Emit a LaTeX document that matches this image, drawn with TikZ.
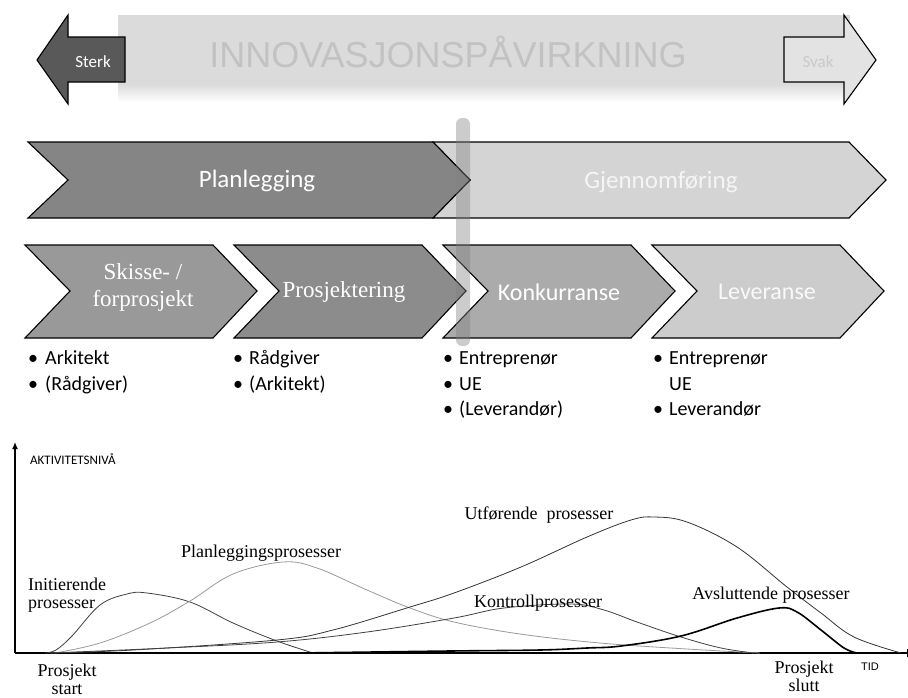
\documentclass[tikz,border=0pt]{standalone}
\usepackage{fontspec}
\usetikzlibrary{arrows.meta}
\setmainfont{Liberation Serif}
\newfontfamily\calibri{Carlito}
\newfontfamily\arialf{Liberation Sans}
\begin{document}
\begin{tikzpicture}[x=1pt,y=-1pt,
  outline/.style={draw=black,line width=1.1pt,line join=miter},
  chevtext/.style={text=white,font=\calibri\fontsize{25}{28}\selectfont,inner sep=0pt},
  chevserif/.style={text=white,font=\fontsize{23}{27}\selectfont,inner sep=0pt,align=center},
  itm/.style={anchor=base west,inner sep=0pt,font=\calibri\fontsize{20}{22}\selectfont},
  bul/.style={anchor=base,inner sep=0pt,font=\calibri\fontsize{20}{22}\selectfont},
  lbl/.style={inner sep=0pt,font=\fontsize{18}{20}\selectfont,align=center},
  curve/.style={line width=0.8pt,smooth,tension=0.6}]
\useasboundingbox (0,0) rectangle (908,697);

% --- banner with direction arrows ---
\fill[gray!28] (118,15) rectangle (850,84);
\shade[top color=gray!28,bottom color=white] (118,84) rectangle (850,102);
\node[inner sep=0pt,text=gray!48,font=\arialf\fontsize{36}{40}\selectfont] (title) at (448,52) {INNOVASJONSPÅVIRKNING};
\draw[outline,fill=black!65] (37,60) -- (68,15) -- (68,37) -- (125,37) -- (125,82) -- (68,82) -- (68,104) -- cycle;
\node[inner sep=0pt,text=white,font=\calibri\fontsize{17}{19}\selectfont] (sterk) at (93,62) {Sterk};
\draw[outline,fill=gray!22] (784,37) -- (844,37) -- (844,15) -- (876,60) -- (844,104) -- (844,82) -- (784,82) -- cycle;
\node[inner sep=0pt,text=gray!42,font=\calibri\fontsize{17}{19}\selectfont] (svak) at (818,62) {Svak};

% --- main phases ---
\draw[outline,fill=black!17] (433,142) -- (849,142) -- (886,180) -- (849,218) -- (433,218) -- (470,180) -- cycle;
\draw[outline,fill=black!48] (28,142) -- (433,142) -- (470,180) -- (433,218) -- (28,218) -- (68,180) -- cycle;
\node[chevtext] (plan) at (257,181) {Planlegging};
\node[chevtext,text=white!92!gray] (gjen) at (661,182) {Gjennomføring};

% --- sub phases ---
\draw[outline,fill=black!40] (25,245) -- (213,245) -- (257,291) -- (213,338) -- (25,338) -- (70,291) -- cycle;
\draw[outline,fill=black!45] (234,245) -- (422,245) -- (466,291) -- (422,338) -- (234,338) -- (279,291) -- cycle;
\draw[outline,fill=black!33] (443,245) -- (631,245) -- (675,291) -- (631,338) -- (443,338) -- (488,291) -- cycle;
\draw[outline,fill=black!20] (652,245) -- (840,245) -- (884,291) -- (840,338) -- (652,338) -- (697,291) -- cycle;
\node[chevserif] (skisse) at (143,287) {Skisse- /\\forprosjekt};
\node[chevserif] (prosj) at (344,292) {Prosjektering};
\node[chevtext,font=\calibri\fontsize{24}{26}\selectfont] (konk) at (559,292) {Konkurranse};
\node[chevtext,font=\calibri\fontsize{24}{26}\selectfont,text=white!95!gray] (lev) at (767,292) {Leveranse};

% translucent marker between the two main phases
\fill[gray,opacity=0.4,rounded corners=6pt] (456,118) rectangle (470,346);

% --- actors ---
\node[bul] (b11) at (33,364) {•}; \node[itm] (t11) at (45,364) {Arkitekt};
\node[bul] (b12) at (33,390) {•}; \node[itm] (t12) at (45,390) {(Rådgiver)};
\node[bul] (b21) at (238,364) {•}; \node[itm] (t21) at (249,364) {Rådgiver};
\node[bul] (b22) at (238,390) {•}; \node[itm] (t22) at (249,390) {(Arkitekt)};
\node[bul] (b31) at (448,364) {•}; \node[itm] (t31) at (459,364) {Entreprenør};
\node[bul] (b32) at (448,390) {•}; \node[itm] (t32) at (459,390) {UE};
\node[bul] (b33) at (448,415) {•}; \node[itm] (t33) at (459,415) {(Leverandør)};
\node[bul] (b41) at (658,364) {•}; \node[itm] (t41) at (669,364) {Entreprenør};
\node[itm] (t42) at (669,390) {UE};
\node[bul] (b43) at (658,415) {•}; \node[itm] (t43) at (669,415) {Leverandør};

% --- activity chart ---
\coordinate (origin) at (15,653);
\coordinate (ytop) at (15,442);
\coordinate (xend) at (907,653);
\draw[line width=1.3pt,-{Latex[length=7pt,width=6pt]}] (origin) -- (ytop);
\draw[line width=1.3pt] (origin) -- (xend);
\fill (907,649) rectangle (908,657);
\node[anchor=west,inner sep=0pt,font=\calibri\fontsize{13}{14}\selectfont] (yl) at (30,459) {AKTIVITETSNIVÅ};
\node[inner sep=0pt,font=\arialf\fontsize{11}{12}\selectfont] (xl) at (870,667) {TID};

% process curves
\draw[curve,black!75] plot coordinates {(45,653) (56,650) (72,636) (100,605) (127,594) (147,593) (190,602) (233,623) (277,641) (313,653)};
\draw[curve,gray!80] plot coordinates {(55,653) (100,643) (150,623) (190,601) (233,574) (283,562) (317,568) (367,590) (410,608) (454,622) (520,634) (600,643) (687,649) (760,653)};
\draw[curve,black!80] plot coordinates {(50,653) (133,650) (277,640) (333,630) (410,607) (454,593) (521,567) (587,537) (631,520) (654,517) (687,522) (737,547) (787,587) (821,613) (854,637) (901,653)};
\draw[curve,black!75] plot coordinates {(50,653) (167,648) (277,642) (367,632) (454,618) (504,608) (571,604) (604,610) (637,622) (681,637) (721,648) (754,653)};
\draw[curve,line width=1.6pt,black] plot coordinates {(300,653) (450,651) (540,650) (587,648) (621,646) (681,636) (737,618) (779,608) (797,612) (821,630) (844,648) (857,653)};

\node[lbl,align=left,anchor=west] (ini) at (28,595) {Initierende\\[-2pt]prosesser};
\node[lbl] (planp) at (261,553) {Planleggingsprosesser};
\node[lbl] (utf) at (539,515) {Utførende\ \ prosesser};
\node[lbl] (kon) at (538,603) {Kontrollprosesser};
\node[lbl] (avs) at (771,595) {Avsluttende prosesser};
\node[lbl] (pstart) at (67,679) {Prosjekt\\[-2pt]start};
\node[lbl] (pslutt) at (804,676) {Prosjekt\\[-2pt]slutt};
\end{tikzpicture}
\end{document}
